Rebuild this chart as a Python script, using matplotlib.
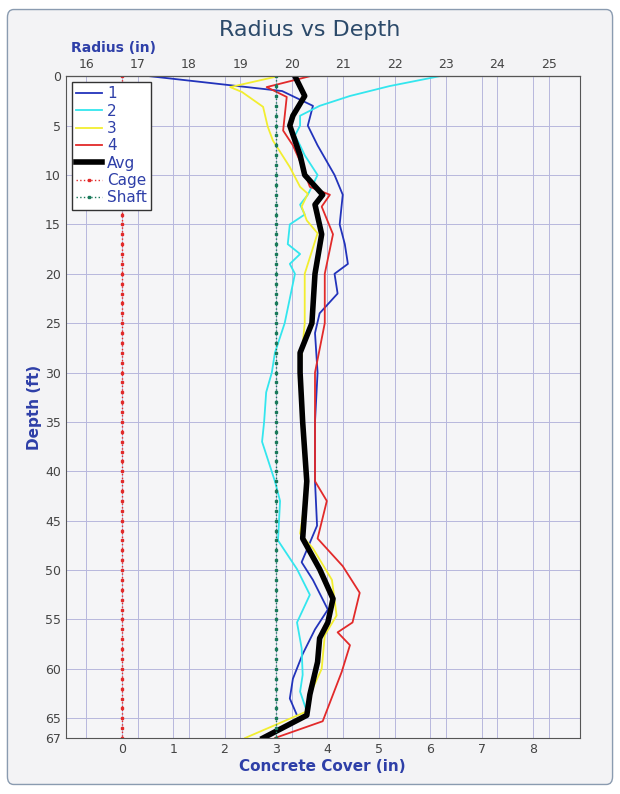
import matplotlib.pyplot as plt
import numpy as np
from matplotlib.patches import FancyBboxPatch

OFFSET = 16.69  # radius = cover + OFFSET

d1 = [0, 1.5, 3, 5, 7, 10, 12, 15, 17, 19, 20, 22, 24, 26, 30, 35, 41, 45.5, 49.2, 51, 54, 56, 58.5, 61, 63, 64.7]
r1 = [17.24, 19.81, 20.41, 20.31, 20.50, 20.83, 20.99, 20.93, 21.03, 21.09, 20.83, 20.89, 20.54, 20.45, 20.50, 20.45,
      20.45, 20.49, 20.19, 20.41, 20.70, 20.45, 20.21, 20.02, 19.96, 20.10]

d2 = [0, 1, 2, 3, 4, 5, 6, 7, 8, 10, 12, 13, 14, 15, 17, 18, 19, 20, 25, 28, 30, 32, 35, 37, 41, 43, 47, 49.9,
      52.5, 55.3, 57.9, 60.6, 62.3, 64.3]
r2 = [22.87, 21.90, 21.13, 20.54, 20.16, 20.16, 20.06, 20.16, 20.25, 20.50, 20.31, 20.16, 20.25, 19.96, 19.92, 20.16,
      19.96, 20.06, 19.86, 19.67, 19.61, 19.50, 19.46, 19.42, 19.67, 19.77, 19.73, 20.10, 20.35, 20.10, 20.19, 20.21,
      20.16, 20.29]

d3 = [0, 1.1, 1.6, 3.1, 5.1, 6.5, 9.2, 11.2, 11.9, 13.2, 14.6, 15.9, 20, 25, 30, 35, 41, 46.3, 47.8, 51, 54.6, 56.6,
      60, 62.6, 64.3, 67]
r3 = [19.73, 18.80, 19.03, 19.44, 19.53, 19.63, 19.96, 20.16, 20.31, 20.19, 20.29, 20.50, 20.25, 20.25, 20.16, 20.21,
      20.31, 20.16, 20.41, 20.78, 20.87, 20.64, 20.58, 20.35, 20.29, 19.09]

d4 = [0, 1.1, 2.1, 5.5, 7, 9.2, 11.2, 12, 13.2, 16, 20, 25, 30, 35, 41, 43, 46.8, 49.6, 52.3, 55.3, 56.3, 57.6, 60.3,
      62.6, 65.3, 67]
r4 = [20.35, 19.51, 19.90, 19.83, 20.02, 20.21, 20.35, 20.74, 20.58, 20.80, 20.64, 20.64, 20.45, 20.45, 20.45, 20.68,
      20.50, 20.99, 21.32, 21.18, 20.89, 21.13, 20.97, 20.80, 20.60, 19.67]

d_avg = [0, 2, 4, 5, 8, 10, 12, 13, 16, 20, 25, 28, 30, 35, 41, 46.8, 49.9, 52.9, 55.3, 56.9, 59.3, 62.6, 64.7, 67]
r_avg = [20.06, 20.25, 20.02, 19.96, 20.16, 20.25, 20.60, 20.45, 20.58, 20.45, 20.39, 20.16, 20.16, 20.21, 20.29,
         20.21, 20.54, 20.80, 20.70, 20.54, 20.50, 20.35, 20.29, 19.44]

cage_cover = 0
shaft_cover = 3
max_depth = 67

fig = plt.figure(figsize=(6.2, 7.94), dpi=100)
fig.patch.set_facecolor('white')
frame = FancyBboxPatch((0.012, 0.012), 0.976, 0.976, boxstyle='round,pad=0,rounding_size=0.01',
                       transform=fig.transFigure, facecolor='#f3f3f5', edgecolor='#8a9bb0', lw=1, zorder=-10)
fig.patches.append(frame)
ax = fig.add_axes([0.106, 0.0705, 0.829, 0.8335])
ax.set_facecolor('#f5f5f7')

blue = '#2e3fa8'
for d, r, c, lab in [(d1, r1, '#2233bb', '1'), (d2, r2, '#33e6ee', '2'), (d3, r3, '#f2ee30', '3'),
                     (d4, r4, '#e22a2a', '4')]:
    ax.plot(np.array(r) - OFFSET, d, color=c, lw=1.3, label=lab)
ax.plot(np.array(r_avg) - OFFSET, d_avg, color='black', lw=4, label='Avg')
depths = np.arange(0, max_depth + 1)
ax.plot(np.full(len(depths), cage_cover), depths, color='#e22a2a', ls=':', marker='s', ms=1.5, lw=1, label='Cage')
ax.plot(np.full(len(depths), shaft_cover), depths, color='#1a7a5a', ls=':', marker='s', ms=1.5, lw=1, label='Shaft')

ax.set_xlim(15.6 - OFFSET, 25.6 - OFFSET)
ax.set_ylim(max_depth, 0)
ax.set_xticks(range(0, 9))
ax.set_yticks(list(range(0, 66, 5)) + [67])
ax.tick_params(labelsize=9, colors='#444444', length=0)
for x in np.arange(16, 26) - OFFSET:
    ax.axvline(x, color='#b8b8dd', lw=0.7, zorder=0)
ax.grid(True, color='#b8b8dd', lw=0.7, zorder=0)
ax.set_axisbelow(True)
for s in ax.spines.values():
    s.set_color('#555555')

top = ax.secondary_xaxis('top', functions=(lambda c: c + OFFSET, lambda r: r - OFFSET))
top.set_xticks(range(16, 26))
top.tick_params(labelsize=9, colors='#444444', length=0)

ax.set_xlabel('Concrete Cover (in)', color=blue, fontsize=11, fontweight='bold', labelpad=2)
ax.set_ylabel('Depth (ft)', color=blue, fontsize=11, fontweight='bold', labelpad=2)
fig.text(0.115, 0.935, 'Radius (in)', color=blue, fontsize=10, fontweight='bold')
fig.text(0.5, 0.955, 'Radius vs Depth', ha='center', fontsize=16, color='#2c4a6a')

leg = ax.legend(loc='upper left', bbox_to_anchor=(-0.003, 1.003), fancybox=False, edgecolor='#333333',
                framealpha=1, fontsize=11, handlelength=1.7, borderpad=0.3, labelspacing=0.15,
                handletextpad=0.3)
for t in leg.get_texts():
    t.set_color(blue)

fig.savefig('out.png', dpi=100)
